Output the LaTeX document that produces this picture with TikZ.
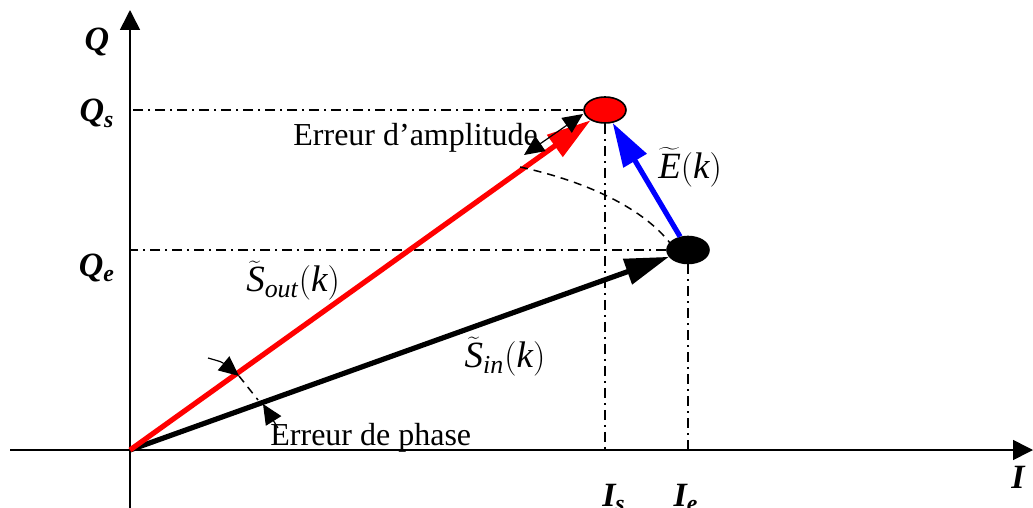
\documentclass[tikz,border=0pt]{standalone}
\usepackage{fontspec}
\setmainfont{Liberation Serif}
\usetikzlibrary{arrows.meta,positioning,calc,shapes.geometric}
\newcommand{\vk}{\mathrm{(}\mathit{k}\mathrm{)}}

\begin{document}
\begin{tikzpicture}[x=0.5pt,y=-0.5pt,
  axe/.style={line width=0.8pt,-{Triangle[length=10pt,width=10pt]}},
  vec/.style={line width=2.6pt,-{Triangle[length=22pt,width=13pt]}},
  proj/.style={line width=0.6pt,dash pattern=on 5pt off 2.5pt on 1pt off 2.5pt},
  cercle/.style={line width=0.75pt,dash pattern=on 4pt off 3pt},
  petit/.style={line width=0.6pt,-{Triangle[length=10pt,width=9pt]}},
  amp/.style={line width=0.6pt,{Triangle[length=10pt,width=9pt]}-{Triangle[length=10pt,width=9pt]}},
  lab/.style={font=\fontsize{16}{18}\selectfont},
  mlab/.style={font=\fontsize{18.5}{20}\selectfont},
  axlab/.style={font=\fontsize{17}{19}\selectfont\bfseries\itshape},
  pt/.style={ellipse,draw,line width=0.8pt,inner sep=0pt}]
\useasboundingbox (0,0) rectangle (1033,508);
\coordinate (O) at (130,450);
\coordinate (xmin) at (10,450);\coordinate (xmax) at (1033,450);
\coordinate (ymin) at (130,510);\coordinate (ymax) at (130,10);
\draw[axe] (xmin)--(xmax);
\draw[axe] (ymin)--(ymax);
\node[axlab] (lQ) at (97,42) {Q};
\node[axlab,anchor=base] (lQs) at (97,122) {Q\textsubscript{s}};
\node[axlab,anchor=base] (lQe) at (97,276) {Q\textsubscript{e}};
\node[axlab,anchor=base] (lIs) at (614,506) {I\textsubscript{s}};
\node[axlab,anchor=base] (lIe) at (686,506) {I\textsubscript{e}};
\node[axlab,anchor=base] (lI) at (1018,488) {I};
\node[pt,fill=red,minimum width=21pt,minimum height=13pt] (ps) at (605,110) {};
\node[pt,fill=black,minimum width=21pt,minimum height=13.5pt] (pe) at (688,250) {};
\draw[proj] (ps.west)--(ps.west -| O);\draw[proj] (pe.west)--(pe.west -| O);
\draw[proj] (ps.south)--(ps.south |- O);\draw[proj] (pe.south)--(pe.south |- O);
\draw[vec] (O)--(pe);
\draw[vec,red] (O)--(ps);
\draw[vec,blue] (pe)--(ps);
\node[mlab] (sout) at (293,281) {$\widetilde{\mathit{S}}_{\mathit{out}}\vk$};
\node[mlab] (sin) at (505,357) {$\widetilde{\mathit{S}}_{\mathit{in}}\vk$};
\node[mlab] (ek) at (690,167) {$\widetilde{\mathit{E}}\vk$};
\node[lab,anchor=base west,inner sep=0pt] (eamp) at (293,146) {Erreur d’amplitude};
\node[lab,anchor=base west,inner sep=0pt] (ephi) at (270,445) {Erreur de phase};
\coordinate (a1) at (524,155);\coordinate (a2) at (583,114);
\draw[amp] (a1)--(a2);
\coordinate (c1) at (520,167);\coordinate (c2) at (670,243);
\draw[cercle] (c1) .. controls (580,180) and (640,205) .. (c2);
\coordinate (f1) at (208,358);\coordinate (f2) at (239,376);\coordinate (f3) at (258,400);
\coordinate (f4) at (263,404);\coordinate (f5) at (278,428);
\draw[petit] (f1) .. controls (222,362) .. (f2);
\draw[cercle] (f2)--(f3);
\draw[petit] (f5)--(f4);
\end{tikzpicture}
\end{document}
